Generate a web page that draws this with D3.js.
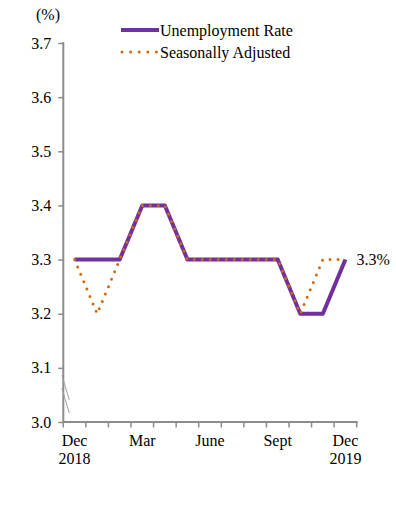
<!DOCTYPE html>
<html>
<head>
<meta charset="utf-8">
<script src="https://cdn.jsdelivr.net/npm/d3@7"></script>
<style>
  html, body { margin: 0; padding: 0; background: #fff; }
  #chart { width: 396px; height: 507px; }
  svg text { font-family: "Liberation Serif", "Times New Roman", serif; font-size: 16px; fill: #000; }
</style>
</head>
<body>
<div id="chart"></div>
<script>
// months Dec 2018 .. Dec 2019
const months = ['Dec18', 'Jan', 'Feb', 'Mar', 'Apr', 'May', 'Jun', 'Jul', 'Aug', 'Sep', 'Oct', 'Nov', 'Dec19'];
const unemployment = [3.3, 3.3, 3.3, 3.4, 3.4, 3.3, 3.3, 3.3, 3.3, 3.3, 3.2, 3.2, 3.3];
const seasonallyAdjusted = [3.3, 3.2, 3.3, 3.4, 3.4, 3.3, 3.3, 3.3, 3.3, 3.3, 3.2, 3.3, 3.3];
const yTicks = [3.0, 3.1, 3.2, 3.3, 3.4, 3.5, 3.6, 3.7];
const xLabels = { Dec18: ['Dec', '2018'], Mar: ['Mar'], Jun: ['June'], Sep: ['Sept'], Dec19: ['Dec', '2019'] };

const purple = '#7030A0';
const orange = '#D06A0E';
const axisGrey = '#8c8c8c';

const width = 396, height = 507;
const margin = { left: 63.3, right: 39.3, top: 43, bottom: 85 };

const svg = d3.select('#chart').append('svg')
  .attr('width', width).attr('height', height);

const x = d3.scaleBand().domain(months).range([margin.left, width - margin.right]);
const y = d3.scaleLinear().domain([3.0, 3.7]).range([height - margin.bottom, margin.top]);
const cx = (m) => x(m) + x.bandwidth() / 2;

// y axis
const yAxis = svg.append('g').attr('transform', `translate(${margin.left},0)`)
  .call(d3.axisLeft(y).tickValues(yTicks).tickFormat(d3.format('.1f')).tickSize(5).tickPadding(7));
yAxis.attr('font-family', null).attr('font-size', null);
yAxis.select('.domain').attr('stroke', axisGrey).attr('stroke-width', 2).attr('d', `M0,${y(3.0)}V${y(3.7) - 1}`);
yAxis.selectAll('.tick line').attr('stroke', axisGrey).attr('stroke-width', 1.5);
yAxis.selectAll('.tick text').attr('fill', '#000');

// x axis: ticks at band edges
const xAxisG = svg.append('g').attr('transform', `translate(0,${y(3.0)})`);
const edges = months.map((m) => x(m)).concat([x(months[months.length - 1]) + x.bandwidth()]);
xAxisG.append('line').attr('x1', margin.left - 1).attr('x2', edges[edges.length - 1] + 1)
  .attr('stroke', axisGrey).attr('stroke-width', 2);
xAxisG.selectAll('line.tk').data(edges).join('line').attr('class', 'tk')
  .attr('x1', (d) => d).attr('x2', (d) => d).attr('y1', 0).attr('y2', 5.5)
  .attr('stroke', axisGrey).attr('stroke-width', 1.5);
Object.entries(xLabels).forEach(([m, lines]) => {
  const t = xAxisG.append('text').attr('text-anchor', 'middle').attr('x', cx(m));
  lines.forEach((l, i) => t.append('tspan').attr('x', cx(m)).attr('y', 24 + i * 18).text(l));
});

// axis break marks
const brk = svg.append('g').attr('stroke', '#a0a0a0').attr('stroke-width', 1);
[[375, 400], [388, 413]].forEach(([a, b]) => {
  brk.append('line').attr('x1', margin.left - 1.5).attr('y1', a).attr('x2', margin.left + 6).attr('y2', b);
});

// lines
const line = d3.line().x((d, i) => cx(months[i])).y((d) => y(d));
svg.append('path').datum(unemployment).attr('d', line)
  .attr('fill', 'none').attr('stroke', purple).attr('stroke-width', 4).attr('stroke-linejoin', 'round');
svg.append('path').datum(seasonallyAdjusted).attr('d', line)
  .attr('fill', 'none').attr('stroke', orange).attr('stroke-width', 3)
  .attr('stroke-linecap', 'round').attr('stroke-dasharray', '0,8');

// end label
svg.append('text').attr('x', cx(months[12]) + 11).attr('y', y(unemployment[12]) + 5)
  .text(unemployment[12].toFixed(1) + '%');

// unit
svg.append('text').attr('x', 36).attr('y', 20).text('(%)');

// legend
const legend = svg.append('g');
legend.append('line').attr('x1', 121).attr('x2', 159).attr('y1', 30).attr('y2', 30)
  .attr('stroke', purple).attr('stroke-width', 4);
legend.append('text').attr('x', 160).attr('y', 36).text('Unemployment Rate');
legend.append('line').attr('x1', 122).attr('x2', 158).attr('y1', 52).attr('y2', 52)
  .attr('stroke', orange).attr('stroke-width', 3).attr('stroke-linecap', 'round').attr('stroke-dasharray', '0,8.6');
legend.append('text').attr('x', 160).attr('y', 57.5).text('Seasonally Adjusted');
</script>
</body>
</html>
